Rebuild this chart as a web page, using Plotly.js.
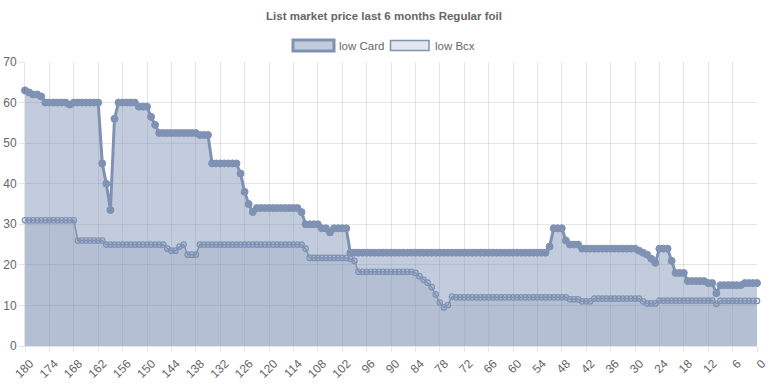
<!DOCTYPE html>
<html>
<head>
<meta charset="utf-8">
<script src="https://cdn.plot.ly/plotly-3.0.1.min.js"></script>
<style>
html,body{margin:0;padding:0;background:#fff;}
#chart{width:768px;height:384px;}
</style>
</head>
<body>
<div id="chart"></div>
<script>
// Days before today (x axis runs from 180 down to 0)
const days = [180,179,178,177,176,175,174,173,172,171,170,169,168,167,166,165,164,163,162,161,
160,159,158,157,156,155,154,153,152,151,150,149,148,147,146,145,144,143,142,141,
140,139,138,137,136,135,134,133,132,131,130,129,128,127,126,125,124,123,122,121,
120,119,118,117,116,115,114,113,112,111,110,109,108,107,106,105,104,103,102,101,
100,99,98,97,96,95,94,93,92,91,90,89,88,87,86,85,84,83,82,81,
80,79,78,77,76,75,74,73,72,71,70,69,68,67,66,65,64,63,62,61,
60,59,58,57,56,55,54,53,52,51,50,49,48,47,46,45,44,43,42,41,
40,39,38,37,36,35,34,33,32,31,30,29,28,27,26,25,24,23,22,21,
20,19,18,17,16,15,14,13,12,11,10,9,8,7,6,5,4,3,2,1,0];

const lowCard = [63,62.5,62,62,61.5,
60,60,60,60,60,60,
59.5,
60,60,60,60,60,60,60,
45,40,33.5,56,
60,60,60,60,60,
59,59,59,
56.5,54.5,52.5,
52.5,52.5,52.5,52.5,52.5,52.5,52.5,52.5,52.5,
52,52,52,
45,45,45,45,45,45,45,
42.5,38,35,33,
34,34,34,34,34,34,34,34,34,34,34,
33,
30,30,30,30,
29,29,28,29,29,29,29,
23,23,23,23,23,23,23,23,23,23,
23,23,23,23,23,23,23,23,23,23,
23,23,23,23,23,23,23,23,23,23,
23,23,23,23,23,23,23,23,23,23,
23,23,23,23,23,23,23,23,23,
24.5,29,29,29,26,25,25,25,
24,24,24,24,24,24,24,24,24,24,24,24,24,24,
23.5,23,22.5,21.5,20.5,24,24,24,21,18,18,18,
16,16,16,16,16,
15.5,15.5,13,
15,15,15,15,15,15,
15.5,15.5,15.5,15.5];

const lowBcx = [31,31,31,31,31,31,31,31,31,31,31,31,31,
26,26,26,26,26,26,26,
25,25,25,25,25,25,25,25,25,25,25,25,25,25,25,
24,23.5,23.5,24.5,25,
22.5,22.5,22.5,
25,25,25,25,25,25,25,25,25,25,25,25,25,
25,25,25,25,25,25,25,25,25,25,25,25,25,
24,
21.7,21.7,21.7,21.7,21.7,21.7,21.7,21.7,21.7,21.7,
21.5,21,
18.3,18.3,18.3,18.3,18.3,18.3,18.3,18.3,18.3,18.3,18.3,18.3,18.3,18.3,
18,17.2,16.3,15.6,14.5,12.7,10.7,9.5,10.1,12.2,
12,12,12,12,12,12,12,12,12,12,12,12,12,12,
12,12,12,12,12,12,12,12,12,12,12,12,12,12,
11.5,11.5,11.5,
11,11,11,
11.7,11.7,11.7,11.7,11.7,11.7,11.7,11.7,11.7,11.7,11.7,11.7,
11,
10.5,10.5,10.5,
11.2,11.2,11.2,11.2,11.2,11.2,11.2,11.2,11.2,11.2,11.2,11.2,11.2,11.2,
10.4,
11.1,11.1,11.1,11.1,11.1,11.1,11.1,11.1,11.1,11.1];

const xTicks = [180,174,168,162,156,150,144,138,132,126,120,114,108,102,96,90,84,78,72,66,60,54,48,42,36,30,24,18,12,6,0];
const seriesNames = ['low Card', 'low Bcx'];
const titleText = 'List market price last 6 months Regular foil';

const lineColor = 'rgb(127,146,180)';
const cardFill = 'rgba(127,146,180,0.47)';
const bcxFill = 'rgba(127,146,180,0.22)';
const gridColor = 'rgba(0,0,0,0.1)';
const fontFam = 'Liberation Sans, Arial, Helvetica, sans-serif';

const W = 768, H = 384;
const mL = 25, mR = 11, mT = 62, mB = 38;
const pw = W - mL - mR, ph = H - mT - mB;
const px = v => (v - mL) / pw;
const py = v => (H - mB - v) / ph;

const traces = [
  {
    x: days, y: lowBcx, name: seriesNames[1], type: 'scatter', mode: 'lines+markers',
    fill: 'tozeroy', fillcolor: bcxFill, cliponaxis: false,
    line: {color: lineColor, width: 1.5},
    marker: {size: 5.5, color: bcxFill, line: {color: lineColor, width: 1.2}},
    showlegend: false, hoverinfo: 'x+y'
  },
  {
    x: days, y: lowCard, name: seriesNames[0], type: 'scatter', mode: 'lines+markers',
    fill: 'tozeroy', fillcolor: cardFill, cliponaxis: false,
    line: {color: lineColor, width: 3},
    marker: {size: 7, color: lineColor, line: {color: lineColor, width: 1}},
    showlegend: false, hoverinfo: 'x+y'
  }
];

const shapes = [
  {type: 'rect', xref: 'paper', yref: 'paper', x0: px(293), x1: px(334), y0: py(51), y1: py(40),
   fillcolor: cardFill, line: {color: lineColor, width: 3}},
  {type: 'rect', xref: 'paper', yref: 'paper', x0: px(390.5), x1: px(429), y0: py(50.5), y1: py(40.5),
   fillcolor: bcxFill, line: {color: lineColor, width: 1.5}}
];

const annotations = [
  {xref: 'paper', yref: 'paper', x: px(337), y: py(45.5), xanchor: 'left', yanchor: 'middle',
   text: seriesNames[0], showarrow: false, font: {family: fontFam, size: 11.5, color: '#666'}},
  {xref: 'paper', yref: 'paper', x: px(433), y: py(45.5), xanchor: 'left', yanchor: 'middle',
   text: seriesNames[1], showarrow: false, font: {family: fontFam, size: 11.5, color: '#666'}}
];

const layout = {
  width: W, height: H,
  margin: {l: mL, r: mR, t: mT, b: mB, pad: 0},
  paper_bgcolor: '#fff', plot_bgcolor: '#fff',
  title: {text: '<b>' + titleText + '</b>', x: 0.5, xref: 'container', xanchor: 'center',
          y: 1 - 16 / H, yref: 'container', yanchor: 'middle',
          font: {family: fontFam, size: 11.5, color: '#666'}},
  showlegend: false,
  xaxis: {
    range: [180, 0], tickmode: 'array', tickvals: xTicks, ticktext: xTicks.map(String),
    tickangle: -45, ticklabelshift: -5, ticklabeloverflow: 'allow',
    showgrid: true, gridcolor: gridColor, gridwidth: 1,
    ticks: 'outside', ticklen: 5, tickcolor: gridColor,
    showline: true, linecolor: gridColor, linewidth: 1, zeroline: false,
    tickfont: {family: fontFam, size: 12, color: '#666'}, fixedrange: true
  },
  yaxis: {
    range: [0, 70], dtick: 10, showgrid: true, gridcolor: gridColor, gridwidth: 1,
    ticks: 'outside', ticklen: 5, tickcolor: gridColor,
    showline: true, linecolor: gridColor, linewidth: 1, zeroline: false,
    tickfont: {family: fontFam, size: 12, color: '#666'}, fixedrange: true
  },
  shapes: shapes,
  annotations: annotations,
  font: {family: fontFam, color: '#666'}
};

Plotly.newPlot('chart', traces, layout, {displayModeBar: false, staticPlot: true});
</script>
</body>
</html>
